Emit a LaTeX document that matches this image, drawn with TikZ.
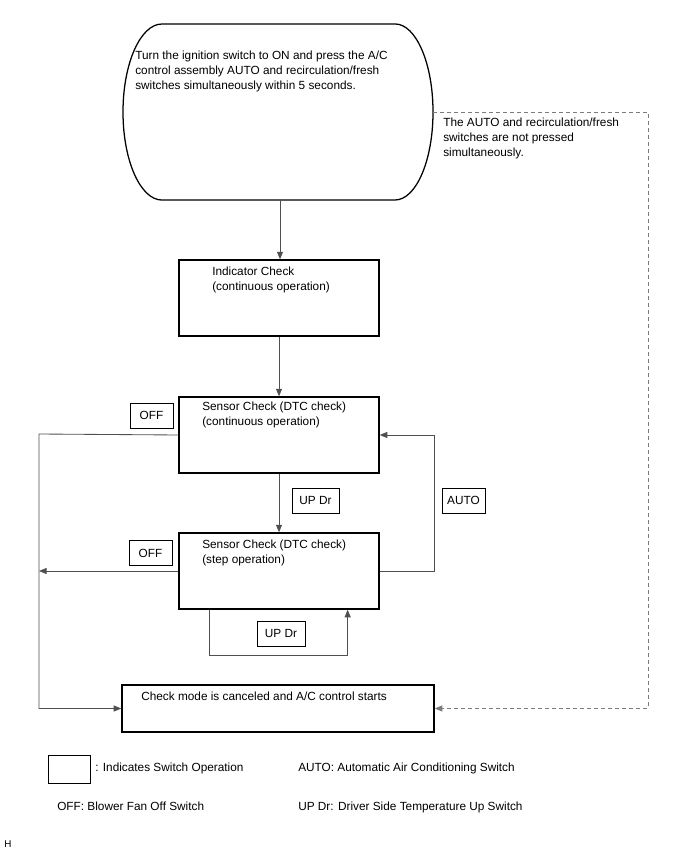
\documentclass[tikz,border=0pt]{standalone}
\usepackage{fontspec}
\setmainfont{Liberation Sans}
\usetikzlibrary{arrows.meta,positioning}
\definecolor{linea}{HTML}{505050}

\begin{document}
\begin{tikzpicture}[x=0.025cm, y=0.025cm,
  caja/.style={draw, line width=0.9pt, minimum width=5cm, minimum height=1.9cm, inner sep=0pt},
  tecla/.style={draw, line width=0.6pt, minimum height=0.625cm, inner sep=0pt,
               font=\fontsize{8.4}{10.5}\selectfont},
  texto/.style={anchor=north west, inner sep=0pt, align=left, font=\fontsize{8.4}{10.5}\selectfont},
  flecha/.style={-{Triangle[length=1.9mm,width=1.5mm]}, line width=0.6pt, linea},
  guion/.style={flecha, linea!75, dash pattern=on 0.1cm off 0.075cm}]
\useasboundingbox (0,0) rectangle (688,-852);
\draw[line width=0.9pt] (162,-24) arc[start angle=90, end angle=270, x radius=0.975cm, y radius=2.2cm]
  -- (395,-200) arc[start angle=-90, end angle=90, x radius=0.95cm, y radius=2.2cm] -- cycle;
\node[texto] (inicio) at (135,-51) {Turn the ignition switch to ON and press the A/C\\control assembly AUTO and recirculation/fresh\\switches simultaneously within 5 seconds.};
\coordinate (ini-s) at (280,-200);
\coordinate (ini-e) at (433,-112);
\coordinate (dcha) at (648,-112);
\coordinate (izq) at (39,-434);
\node[caja] (ind) at (279,-298) {};
\node[caja] (s1) at (279,-435) {};
\node[caja] (s2) at (279,-571) {};
\node[caja, minimum width=7.8cm, minimum height=1.175cm] (chk) at (278,-708.5) {};
\node[texto] (ind-t) at (212,-267) {Indicator Check\\(continuous operation)};
\node[texto] (s1-t) at (202,-402) {Sensor Check (DTC check)\\(continuous operation)};
\node[texto] (s2-t) at (202,-540) {Sensor Check (DTC check)\\(step operation)};
\node[texto] (chk-t) at (141,-692) {Check mode is canceled and A/C control starts};
\node[texto] (nota) at (443,-118) {The AUTO and recirculation/fresh\\switches are not pressed\\simultaneously.};
\node[tecla, minimum width=1.075cm] (off1) at (151.5,-415.5) {OFF};
\node[tecla, minimum width=1.075cm] (off2) at (150.5,-553) {OFF};
\node[tecla, minimum width=1.175cm] (up1) at (315.5,-500.5) {UP Dr};
\node[tecla, minimum width=1.075cm] (auto) at (463.5,-500.5) {AUTO};
\node[tecla, minimum width=1.2cm] (up2) at (281,-633.5) {UP Dr};
\draw[flecha] (ini-s) -- (ini-s |- ind.north);
\foreach \a/\b in {ind/s1, s1/s2}
  \draw[flecha] (\a) -- (\b);
\draw[flecha] (s1.west) -- (izq) |- (chk.west);
\draw[flecha] (s2.west) -- (s2.west -| izq);
\draw[flecha] (s2.east) -- ++(55,0) |- (s1.east);
\draw[flecha] ([xshift=0.775cm]s2.south west) -- ++(0,-46) -| ([xshift=-0.8cm]s2.south east);
\draw[guion] (ini-e) -- (dcha) |- (chk.east);
\node[tecla, minimum width=1.05cm, minimum height=0.7cm] (ley) at (69,-769) {};
\node[texto, anchor=base west] (ley-1) at (95,-771) {: Indicates Switch Operation};
\node[texto, anchor=base west] (ley-2) at (298,-771) {AUTO: Automatic Air Conditioning Switch};
\node[texto, anchor=base west] (ley-3) at (57,-810) {OFF: Blower Fan Off Switch};
\node[texto, anchor=base west] (ley-4) at (298,-810) {UP Dr: Driver Side Temperature Up Switch};
\node[texto, anchor=base west, font=\fontsize{7}{8}\selectfont] (marca) at (4,-847) {H};
\end{tikzpicture}
\end{document}
